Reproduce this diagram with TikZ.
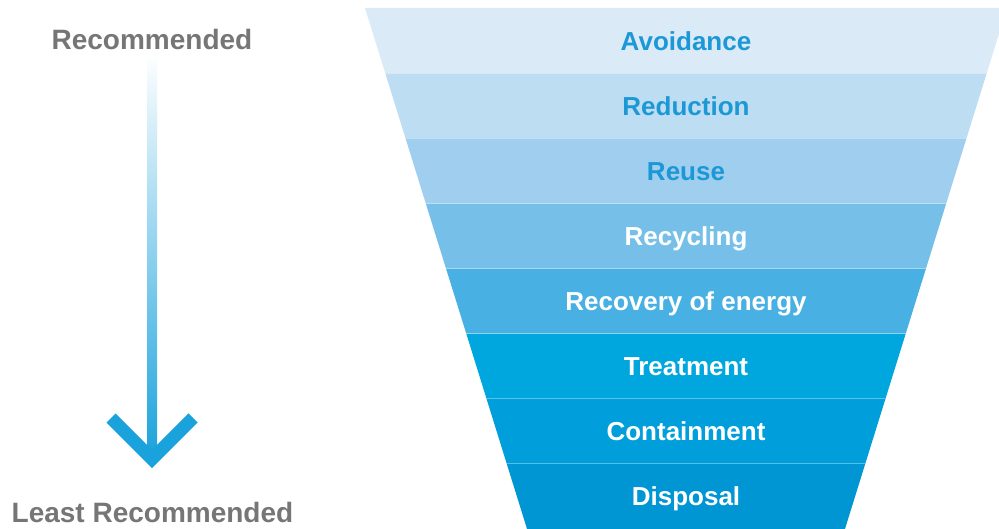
\documentclass[tikz,border=0pt]{standalone}
\usepackage{fontspec}
\setmainfont{Liberation Sans}
\usepackage{xcolor}
\usepackage{tikz}
\usetikzlibrary{positioning,calc}

\definecolor{labelgray}{HTML}{767676}
\definecolor{textblue}{HTML}{1B98D5}
\definecolor{arrowblue}{HTML}{1AA2DC}
\definecolor{bandA}{HTML}{DAEAF7}
\definecolor{bandB}{HTML}{BDDDF2}
\definecolor{bandC}{HTML}{9FCEEE}
\definecolor{bandD}{HTML}{75BFE8}
\definecolor{bandE}{HTML}{48B0E2}
\definecolor{bandF}{HTML}{00A6DE}
\definecolor{bandG}{HTML}{009EDA}
\definecolor{bandH}{HTML}{0096D4}

\begin{document}
\begin{tikzpicture}[x=1pt,y=-1pt,
	lbl/.style={font=\fontsize{28}{30}\selectfont\bfseries, text=labelgray, anchor=base},
	stage/.style={font=\fontsize{26}{28}\selectfont\bfseries, anchor=base}]
	\clip (0,0) rectangle (999,529);
	\fill[white] (0,0) rectangle (999,529);
	
	% funnel bands
	\foreach \i/\col in {0/bandA,1/bandB,2/bandC,3/bandD,4/bandE,5/bandF,6/bandG,7/bandH} {
		\pgfmathsetmacro{\ya}{8+65.125*\i}
		\pgfmathsetmacro{\yb}{8+65.125*(\i+1)}
		\pgfmathsetmacro{\wa}{321-0.311*(\ya-8)}
		\pgfmathsetmacro{\wb}{321-0.311*(\yb-8)}
		\fill[\col] (686-\wa,\ya) -- (686+\wa,\ya) -- (686+\wb,\yb) -- (686-\wb,\yb) -- cycle;
		\ifnum\i>0
			\draw[white, opacity=0.35, line width=0.8pt] (686-\wa,\ya) -- (686+\wa,\ya);
		\fi
	}
	
	% % % % % % % % % % % % % % % % % % % % % % % % % %
	
	\node[stage, text=textblue] (avoid) at (686,50.1) {Avoidance};
	\node[stage, text=textblue] (reduce) at (686,115.2) {Reduction};
	\node[stage, text=textblue] (reuse) at (686,180.3) {Reuse};
	\node[stage, text=white] (recycle) at (686,245.5) {Recycling};
	\node[stage, text=white] (energy) at (686,310.6) {Recovery of energy};
	\node[stage, text=white] (treat) at (686,375.7) {Treatment};
	\node[stage, text=white] (contain) at (686,440.8) {Containment};
	\node[stage, text=white] (dispose) at (686,505.9) {Disposal};
	
	% % % % % % % % % % % % % % % % % % % % % % % % % %
	
	\node[lbl] (rec) at (152,50) {Recommended};
	\node[lbl] (least) at (152.5,522) {Least Recommended};
	
	\coordinate (shafttop) at (152,53);
	\coordinate (tip) at (152,459);
	\shade[top color=white, bottom color=arrowblue] ([xshift=-5pt]shafttop) rectangle ([xshift=5pt]tip);
	\draw[arrowblue, line width=13pt, miter limit=10] ([shift={(-41,-41)}]tip) -- (tip) -- ([shift={(41,-41)}]tip);
\end{tikzpicture}
\end{document}
